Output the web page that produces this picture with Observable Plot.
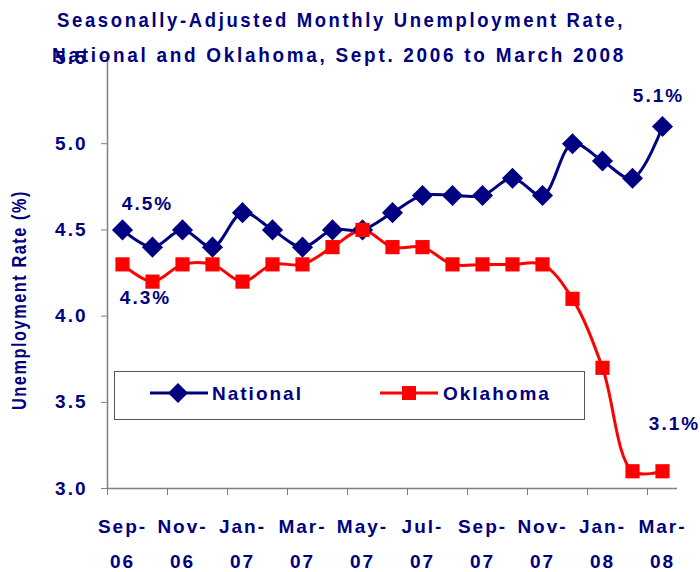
<!DOCTYPE html>
<html><head><meta charset="utf-8">
<script src="https://cdn.jsdelivr.net/npm/d3@7"></script>
<script src="https://cdn.jsdelivr.net/npm/@observablehq/plot@0.6"></script>
<style>
body{margin:0;background:#fff;}
#wrap{position:relative;width:700px;height:572px;font-family:"Liberation Sans",Arial,sans-serif;font-weight:bold;color:#000080;overflow:hidden;background:#fff;}
#wrap svg{position:absolute;left:0;top:0;}
</style></head><body><div id="wrap"></div>
<script>
const months = ["Sep-06","Oct-06","Nov-06","Dec-06","Jan-07","Feb-07","Mar-07","Apr-07","May-07","Jun-07","Jul-07","Aug-07","Sep-07","Oct-07","Nov-07","Dec-07","Jan-08","Feb-08","Mar-08"];
const national = [4.5,4.4,4.5,4.4,4.6,4.5,4.4,4.5,4.5,4.6,4.7,4.7,4.7,4.8,4.7,5.0,4.9,4.8,5.1];
const oklahoma = [4.3,4.2,4.3,4.3,4.2,4.3,4.3,4.4,4.5,4.4,4.4,4.3,4.3,4.3,4.3,4.1,3.7,3.1,3.1];
const yTicks = [3.0,3.5,4.0,4.5,5.0,5.5];
const labelIdx = [0,2,4,6,8,10,12,14,16,18];
const titleLines = ["Seasonally-Adjusted Monthly Unemployment Rate,","National and Oklahoma, Sept. 2006 to March 2008"];
const yLabel = "Unemployment Rate (%)";
const seriesNames = ["National","Oklahoma"];

const NAVY = "#000080", RED = "#FF0000", GRAY = "#808080";
const FONT = '"Liberation Sans",Arial,sans-serif';
const rows = months.map((m,i)=>({i, m, national: national[i], oklahoma: oklahoma[i]}));
const first = rows[0], last = rows[rows.length-1];
const fmtPct = v => d3.format(".1f")(v) + "%";
const txt = {fill:NAVY, fontSize:19, fontWeight:"bold"};

const chart = Plot.plot({
  width:700, height:572,
  marginLeft:107, marginRight:23, marginTop:57, marginBottom:84,
  style:{fontFamily:FONT, fontWeight:"bold", fontSize:"19px", color:NAVY, background:"transparent", overflow:"visible", letterSpacing:"2px"},
  x:{domain:[-0.5, months.length-0.5]},
  y:{domain:[3,5.5]},
  marks:[
    Plot.ruleX([-0.5],{stroke:GRAY, strokeWidth:1.5}),
    Plot.ruleY([3],{stroke:GRAY, strokeWidth:1.5}),
    Plot.axisY({ticks:yTicks, tickFormat:d3.format(".1f"), tickSize:6, tickPadding:14, stroke:GRAY, fill:NAVY, label:null, fontSize:19}),
    Plot.axisX({ticks:labelIdx.map(i=>i-0.5), tickSize:7, tickFormat:()=>"", stroke:GRAY, label:null}),
    Plot.axisX({ticks:labelIdx, tickSize:0, tickPadding:20, tickFormat:i=>months[i].replace("-","-\n"), lineHeight:1.84, fill:NAVY, label:null, fontSize:19}),
    Plot.line(rows,{x:"i", y:"national", stroke:NAVY, strokeWidth:3, curve:"catmull-rom"}),
    Plot.line(rows,{x:"i", y:"oklahoma", stroke:RED, strokeWidth:3, curve:"catmull-rom"}),
    Plot.dot(rows,{x:"i", y:"national", symbol:"diamond2", r:9.5, fill:NAVY, stroke:null}),
    Plot.dot(rows,{x:"i", y:"oklahoma", symbol:"square", r:8, fill:RED, stroke:null}),
    Plot.text([first],{x:"i", y:"national", text:d=>fmtPct(d.national), dx:25, dy:-26, ...txt}),
    Plot.text([first],{x:"i", y:"oklahoma", text:d=>fmtPct(d.oklahoma), dx:23, dy:34, ...txt}),
    Plot.text([last],{x:"i", y:"national", text:d=>fmtPct(d.national), dx:-4, dy:-31, ...txt}),
    Plot.text([last],{x:"i", y:"oklahoma", text:d=>fmtPct(d.oklahoma), dx:12, dy:-47, ...txt})
  ]
});

const wrap = document.getElementById("wrap");
const ns = "http://www.w3.org/2000/svg";

// legend box (drawn under the plot marks)
const lg = document.createElementNS(ns,"svg");
lg.setAttribute("width",472); lg.setAttribute("height",50);
lg.style.left = "114px"; lg.style.top = "371px";
lg.innerHTML = `<rect x="0.5" y="0.5" width="470" height="48" fill="white" stroke="#555" stroke-width="1"/>
<line x1="36" x2="94" y1="22" y2="22" stroke="${NAVY}" stroke-width="3"/>
<path d="M64,12 L74,22 L64,32 L54,22 Z" fill="${NAVY}"/>
<text x="98" y="29" fill="${NAVY}" font-size="19" font-weight="bold" letter-spacing="2" font-family='${FONT}'>${seriesNames[0]}</text>
<line x1="266" x2="324" y1="22" y2="22" stroke="${RED}" stroke-width="3"/>
<rect x="288" y="15" width="14" height="14" fill="${RED}"/>
<text x="329" y="29" fill="${NAVY}" font-size="19" font-weight="bold" letter-spacing="2" font-family='${FONT}'>${seriesNames[1]}</text>`;

wrap.appendChild(chart);
wrap.appendChild(lg);
// move legend below the data marks but above axes: put chart on top with transparent bg
wrap.appendChild(chart);

// title and y label overlay
const ov = document.createElementNS(ns,"svg");
ov.setAttribute("width",700); ov.setAttribute("height",572);
ov.style.pointerEvents = "none";
ov.innerHTML = `
<text x="341" y="27" text-anchor="middle" fill="${NAVY}" font-size="21" font-weight="bold" letter-spacing="3" textLength="568" lengthAdjust="spacingAndGlyphs" font-family='${FONT}'>${titleLines[0]}</text>
<text x="339" y="62" text-anchor="middle" fill="${NAVY}" font-size="21" font-weight="bold" letter-spacing="3" textLength="574" lengthAdjust="spacingAndGlyphs" font-family='${FONT}'>${titleLines[1]}</text>
<text transform="translate(26,300) rotate(-90)" text-anchor="middle" fill="${NAVY}" font-size="21" font-weight="bold" letter-spacing="2" textLength="220" lengthAdjust="spacingAndGlyphs" font-family='${FONT}'>${yLabel}</text>`;
wrap.appendChild(ov);
</script></body></html>
